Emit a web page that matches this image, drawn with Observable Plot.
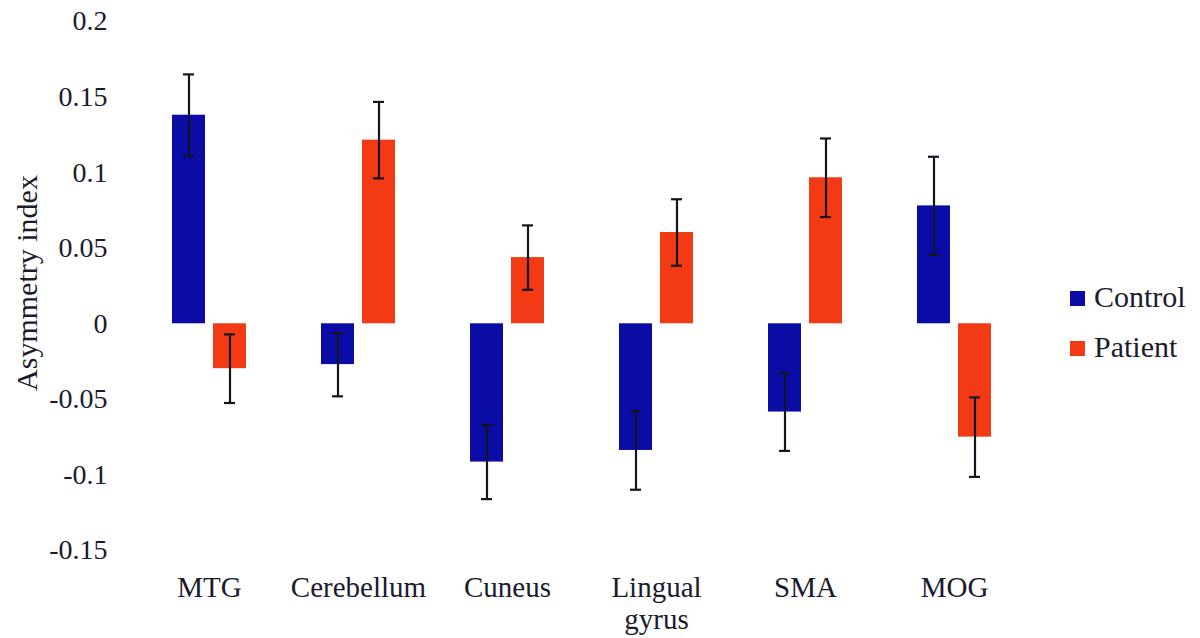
<!DOCTYPE html>
<html>
<head>
<meta charset="utf-8">
<script src="https://cdn.jsdelivr.net/npm/d3@7"></script>
<script src="https://cdn.jsdelivr.net/npm/@observablehq/plot@0.6"></script>
<style>
  html, body { margin: 0; padding: 0; background: #ffffff; }
  #wrap { position: relative; width: 1200px; height: 638px; overflow: hidden; font-family: "Liberation Serif", "Times New Roman", serif; color: #1b1b2e; }
  #legend { position: absolute; left: 1070px; top: 272px; font-size: 30px; line-height: 50px; }
  .item { display: flex; align-items: center; height: 50px; }
  .sw { width: 15px; height: 15px; margin-right: 9px; margin-top: 2px; }
  #ylabel { position: absolute; left: 27px; top: 283px; font-size: 30px; white-space: nowrap; transform: translate(-50%, -50%) rotate(-90deg); }
</style>
</head>
<body>
<div id="wrap"><div id="chart"></div>
<div id="ylabel"></div>
<div id="legend"></div></div>
<script>
const regions = ["MTG", "Cerebellum", "Cuneus", "Lingual gyrus", "SMA", "MOG"];
const regionLabels = ["MTG", "Cerebellum", "Cuneus", "Lingual\ngyrus", "SMA", "MOG"];
const groups = ["Control", "Patient"];
const groupColors = ["#0b0ca6", "#f23b15"];
const controlValues = [0.138, -0.027, -0.0915, -0.0838, -0.0584, 0.078];
const patientValues = [-0.0297, 0.1215, 0.0438, 0.0604, 0.0966, -0.075];
const controlErrors = [0.027, 0.021, 0.0245, 0.026, 0.0257, 0.0325];
const patientErrors = [0.0227, 0.0253, 0.0213, 0.022, 0.026, 0.0263];
const yTicks = [-0.15, -0.1, -0.05, 0, 0.05, 0.1, 0.15, 0.2];
const yTickLabels = ["-0.15", "-0.1", "-0.05", "0", "0.05", "0.1", "0.15", "0.2"];
const yTitle = "Asymmetry index";

const data = [];
regions.forEach((r, i) => {
  data.push({region: r, group: "Control", value: controlValues[i], err: controlErrors[i]});
  data.push({region: r, group: "Patient", value: patientValues[i], err: patientErrors[i]});
});

const textColor = "#1b1b2e";
const errColor = "#15151f";
const plot = Plot.plot({
  width: 1200,
  height: 638,
  marginTop: 21,
  marginBottom: 88,
  marginLeft: 117,
  marginRight: 155,
  style: {fontFamily: "'Liberation Serif', 'Times New Roman', serif", fontSize: "28px", color: textColor, background: "#ffffff"},
  fx: {domain: regions, paddingInner: 0.49, paddingOuter: 0.35, axis: null},
  x: {domain: groups, paddingInner: 0.19, paddingOuter: 0, axis: null},
  y: {domain: [-0.15, 0.2], axis: null},
  color: {domain: groups, range: groupColors},
  marks: [
    Plot.barY(data, {fx: "region", x: "group", y: "value", fill: "group"}),
    Plot.ruleX(data, {fx: "region", x: "group", y1: d => d.value - d.err, y2: d => d.value + d.err, stroke: errColor, strokeWidth: 2.2}),
    Plot.tickY(data, {fx: "region", x: "group", y: d => d.value + d.err, stroke: errColor, strokeWidth: 2.2, insetLeft: 11, insetRight: 11}),
    Plot.tickY(data, {fx: "region", x: "group", y: d => d.value - d.err, stroke: errColor, strokeWidth: 2.2, insetLeft: 11, insetRight: 11}),
    Plot.axisY({ticks: yTicks, tickFormat: d => yTickLabels[yTicks.indexOf(d)], tickSize: 0, tickPadding: 64, fontSize: 28, fill: textColor, label: null}),
    Plot.axisFx({anchor: "bottom", tickSize: 0, tickPadding: 24, fontSize: 29, fill: textColor, lineHeight: 1.1,
      tickFormat: d => regionLabels[regions.indexOf(d)], label: null})
  ]
});
document.getElementById("chart").appendChild(plot);
document.getElementById("ylabel").textContent = yTitle;

const legend = document.getElementById("legend");
groups.forEach((g, i) => {
  const item = document.createElement("div");
  item.className = "item";
  const sw = document.createElement("div");
  sw.className = "sw";
  sw.style.background = groupColors[i];
  const t = document.createElement("span");
  t.textContent = g;
  item.appendChild(sw);
  item.appendChild(t);
  legend.appendChild(item);
});
</script>
</body>
</html>
